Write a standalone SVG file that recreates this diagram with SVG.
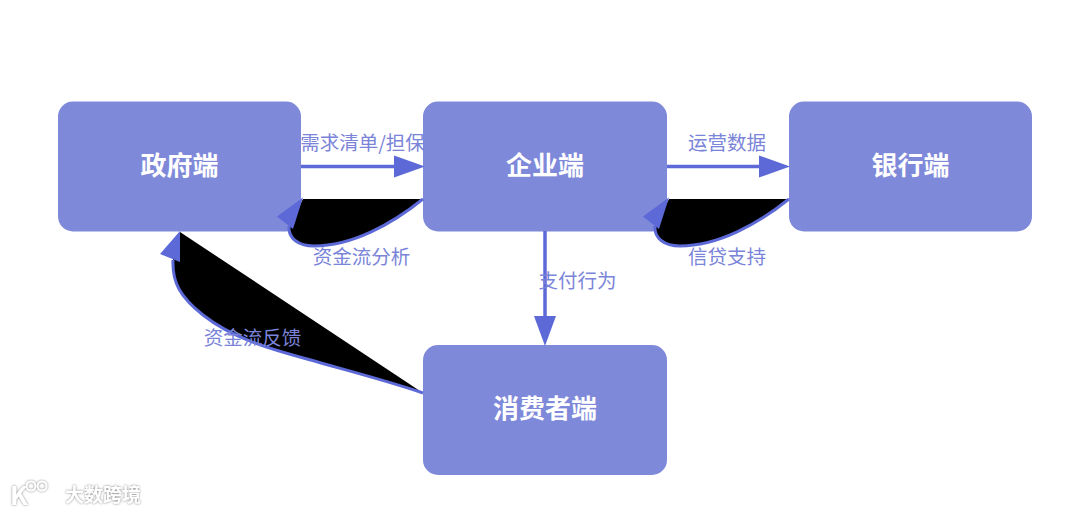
<svg xmlns="http://www.w3.org/2000/svg" width="1080" height="514" viewBox="0 0 1080 514">
  <defs>
    <filter id="wm" x="-20%" y="-30%" width="140%" height="160%">
      <feDropShadow dx="0" dy="0" stdDeviation="1.200" flood-color="#7a7a7a" flood-opacity="1"/>
    </filter>
    <polygon id="headS" points="0,-11 31,0 0,11" fill="#5c69d6"/>
    <path id="loop" d="M423,199C392,224 352,246 314,246C298,246 288,238 289,226"/>
  </defs>
  <style>
    .node{fill:#7f89da}
    .nt{font-family:"Noto Sans CJK SC",sans-serif;font-size:26px;font-weight:700;fill:#fff;text-anchor:middle}
    .lb{font-family:"Noto Sans CJK SC",sans-serif;font-size:19.5px;fill:#7a84d8;text-anchor:middle}
    .line{fill:none;stroke:#5c69d6;stroke-width:3.500}
    .stroke{fill:none;stroke:#5c69d6;stroke-width:3}
    .blk{fill:#000}
    .head{fill:#5c69d6}
    .wmt{font-family:"Noto Sans CJK SC",sans-serif;font-weight:700;fill:#fff}
  </style>
  <rect width="1080" height="514" fill="#fff"/>
  <g id="node-gov"><rect class="node" x="58" y="101.500" width="243" height="130" rx="15"/><text class="nt" x="179.500" y="175">政府端</text></g>
  <g id="node-ent"><rect class="node" x="423" y="101.500" width="244" height="130" rx="15"/><text class="nt" x="545" y="175">企业端</text></g>
  <g id="node-bank"><rect class="node" x="789" y="101.500" width="243" height="130" rx="15"/><text class="nt" x="910.500" y="175">银行端</text></g>
  <g id="node-consumer"><rect class="node" x="423" y="345" width="244" height="130" rx="15"/><text class="nt" x="545" y="418">消费者端</text></g>
  <g id="connectors">
    <path class="line" d="M301,166.500H396"/>
    <use href="#headS" x="394" y="166.500"/>
    <path class="line" d="M667,166.500H761"/>
    <use href="#headS" x="759" y="166.500"/>
    <path class="line" d="M545,231V318"/>
    <polygon class="head" points="534,316 556,316 545,346"/>
    <path class="blk" d="M423,199C392,224 352,246 314,246C298,246 288,238 289,226L303,199Z"/>
    <path class="stroke" d="M423,199C392,224 352,246 314,246C298,246 288,238 289,226"/>
    <polygon class="head" points="303,197.500 277,216.500 293,229"/>
    <path class="blk" d="M789,199C758,224 718,246 680,246C664,246 654,238 655,226L669,199Z"/>
    <path class="stroke" d="M789,199C758,224 718,246 680,246C664,246 654,238 655,226"/>
    <polygon class="head" points="669,197.500 643,216.500 659,229"/>
    <path class="blk" d="M423,393C385,380 345,370 307,359C270,349 232,338 203,315C180,297 172,282 173,260L180,232Z"/>
    <path class="stroke" d="M423,393C385,380 345,370 307,359C270,349 232,338 203,315C180,297 172,282 173,260"/>
    <polygon class="head" points="180,231 160,254 180,262"/>
  </g>
  <g id="labels">
    <text class="lb" x="362.500" y="150">需求清单/担保</text>
    <text class="lb" x="727" y="150">运营数据</text>
    <text class="lb" x="361.500" y="264">资金流分析</text>
    <text class="lb" x="727" y="264">信贷支持</text>
    <text class="lb" x="577.500" y="288">支付行为</text>
    <text class="lb" x="252.500" y="345">资金流反馈</text>
  </g>
  <g id="watermark" filter="url(#wm)">
    <text class="wmt" x="10" y="505" font-size="26">K</text>
    <circle cx="31" cy="486" r="4.500" fill="none" stroke="#fff" stroke-width="2"/>
    <circle cx="42" cy="486" r="4.500" fill="none" stroke="#fff" stroke-width="2"/>
    <text class="wmt" x="65" y="502" font-size="19">大数跨境</text>
  </g>
</svg>
